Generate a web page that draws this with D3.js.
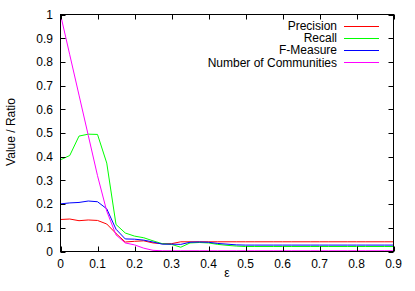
<!DOCTYPE html>
<html><head><meta charset="utf-8">
<script src="https://cdn.jsdelivr.net/npm/d3@7"></script>
<style>body{margin:0;background:#fff}svg{display:block}text{font-family:"Liberation Sans",Arial,sans-serif;fill:#000}</style>
</head><body><svg id="c" width="415" height="291"></svg>
<script>
const eps = [0,0.025,0.05,0.075,0.1,0.125,0.15,0.175,0.2,0.225,0.25,0.275,0.3,0.325,0.35,0.375,0.4,0.425,0.45,0.475,0.5,0.525,0.55,0.575,0.6,0.625,0.65,0.675,0.7,0.725,0.75,0.775,0.8,0.825,0.85,0.875,0.9];
const precision = [0.135,0.137,0.13,0.133,0.131,0.116,0.076,0.04,0.043,0.045,0.036,0.033,0.033,0.041,0.041,0.041,0.041,0.041,0.041,0.041,0.041,0.041,0.041,0.041,0.041,0.041,0.041,0.041,0.041,0.041,0.041,0.041,0.041,0.041,0.041,0.041,0.041];
const recall = [0.387,0.405,0.487,0.495,0.494,0.373,0.114,0.078,0.065,0.058,0.045,0.033,0.03,0.018,0.036,0.038,0.036,0.03,0.026,0.023,0.021,0.021,0.021,0.021,0.021,0.021,0.021,0.021,0.021,0.021,0.021,0.021,0.021,0.021,0.021,0.021,0.021];
const fmeasure = [0.201,0.205,0.207,0.213,0.21,0.18,0.094,0.053,0.052,0.048,0.04,0.031,0.031,0.03,0.039,0.04,0.039,0.034,0.031,0.028,0.027,0.027,0.027,0.027,0.027,0.027,0.027,0.027,0.027,0.027,0.027,0.027,0.027,0.027,0.027,0.027,0.027];
const communities = [1,0.83,0.66,0.49,0.32,0.17,0.07,0.036,0.028,0.014,0.005,0.003,0.003,0.003,0.003,0.003,0.003,0.003,0.003,0.003,0.003,0.003,0.003,0.003,0.003,0.003,0.003,0.003,0.003,0.003,0.003,0.003,0.003,0.003,0.003,0.003,0.003];
const seriesNames = ["Precision","Recall","F-Measure","Number of Communities"];
const seriesColors = ["#ff0000","#00ff00","#0000ff","#ff00ff"];
const xTicks = [0,0.1,0.2,0.3,0.4,0.5,0.6,0.7,0.8,0.9];
const yTicks = [0,0.1,0.2,0.3,0.4,0.5,0.6,0.7,0.8,0.9,1];

const svg = d3.select("#c");
const L=60.5, R=393.5, T=14.5, B=251.5;
const FS = 12;
const x = d3.scaleLinear().domain([0,0.9]).range([L,R]);
const y = d3.scaleLinear().domain([0,1]).range([B,T]);
const fmt = d => d===0?"0":(d===1?"1":d3.format(".1f")(d));

const series = [precision,recall,fmeasure,communities];
const line = d3.line().x((d,i)=>x(eps[i])).y(d=>y(d));
series.forEach((s,k)=>{
  svg.append("path").datum(s).attr("d",line).attr("fill","none")
    .attr("stroke",seriesColors[k]).attr("stroke-width",1);
});

// axes with inward ticks
const tl = 5;
const ax = svg.append("g").attr("stroke","#000").attr("stroke-width",1);
xTicks.forEach(t=>{
  const px = Math.round(x(t))+0.5;
  ax.append("line").attr("x1",px).attr("x2",px).attr("y1",B).attr("y2",B-tl);
  ax.append("line").attr("x1",px).attr("x2",px).attr("y1",T).attr("y2",T+tl);
});
yTicks.forEach(t=>{
  const py = Math.round(y(t))+0.5;
  ax.append("line").attr("x1",L).attr("x2",L+tl).attr("y1",py).attr("y2",py);
  ax.append("line").attr("x1",R).attr("x2",R-tl).attr("y1",py).attr("y2",py);
});
ax.append("rect").attr("x",L).attr("y",T).attr("width",R-L).attr("height",B-T).attr("fill","none");

svg.append("g").selectAll("text").data(xTicks).join("text")
  .attr("x",d=>x(d)).attr("y",268).attr("text-anchor","middle").attr("font-size",FS).text(fmt);
svg.append("g").selectAll("text").data(yTicks).join("text")
  .attr("x",53).attr("y",d=>y(d)+4.3).attr("text-anchor","end").attr("font-size",FS).text(fmt);

svg.append("text").attr("transform","translate(14.5,132) rotate(-90)").attr("text-anchor","middle")
  .attr("font-size",FS).text("Value / Ratio");
svg.append("text").attr("x",227).attr("y",276.5).attr("text-anchor","middle").attr("font-size",FS).text("ε");

// legend
seriesNames.forEach((n,k)=>{
  const yy = 25.5 + k*12.3;
  svg.append("text").attr("x",337).attr("y",yy+4.3).attr("text-anchor","end").attr("font-size",FS).text(n);
  svg.append("line").attr("x1",344).attr("x2",379).attr("y1",Math.round(yy)+0.5).attr("y2",Math.round(yy)+0.5)
    .attr("stroke",seriesColors[k]).attr("stroke-width",1);
});
</script></body></html>
